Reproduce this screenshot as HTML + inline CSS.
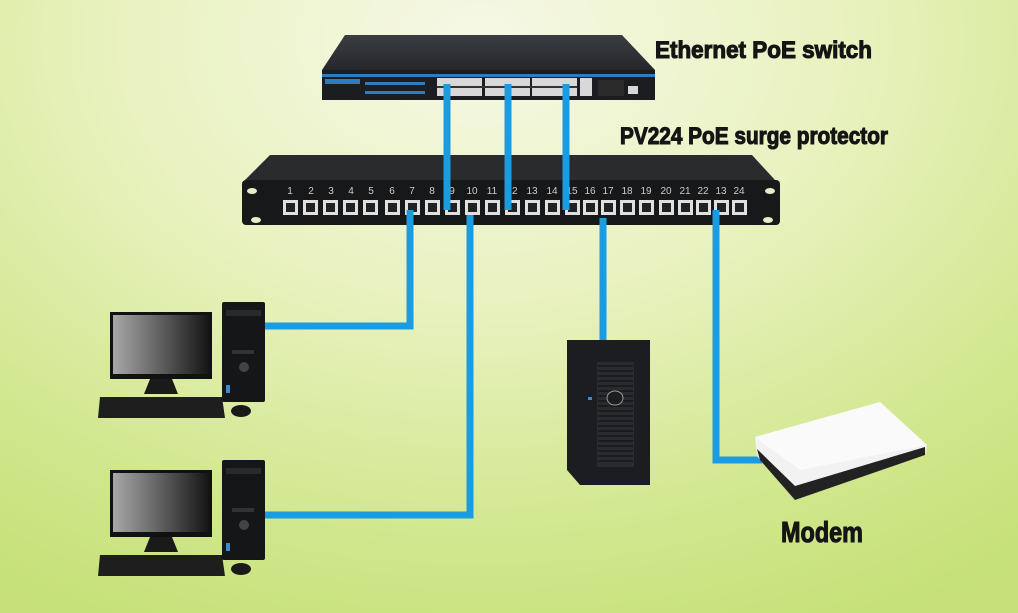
<!DOCTYPE html>
<html><head><meta charset="utf-8"><style>
html,body{margin:0;padding:0}
body{width:1018px;height:613px;overflow:hidden;background:radial-gradient(ellipse 900px 650px at 480px 40px,#f6f8e6 0%,#e9f2c0 40%,#cfe68a 80%,#c6e077 100%)}
svg{position:absolute;left:0;top:0}
.t{font-family:"Liberation Sans Narrow","Liberation Sans",sans-serif;font-weight:bold;fill:#151515;stroke:#151515;stroke-width:1.1}
</style></head><body>
<svg width="1018" height="613" viewBox="0 0 1018 613">
<defs>
<linearGradient id="scr" x1="0" x2="1"><stop offset="0" stop-color="#a8a8a8"/><stop offset="1" stop-color="#151515"/></linearGradient>
<linearGradient id="top" x1="0" y1="0" x2="0" y2="1"><stop offset="0" stop-color="#3a3d42"/><stop offset="1" stop-color="#25272b"/></linearGradient>
</defs>
<!-- switch -->
<polygon points="345,35 622,35 655,70 322,70" fill="url(#top)"/>
<rect x="322" y="70" width="333" height="30" fill="#1c1d20"/>
<rect x="322" y="74" width="333" height="3" fill="#2b7cc0"/>
<rect x="325" y="79" width="35" height="5" fill="#2b7cc0"/>
<rect x="365" y="82" width="60" height="3" fill="#2b7cc0"/>
<rect x="365" y="91" width="60" height="3" fill="#2b7cc0"/>
<g fill="#d8d8d8">
<rect x="437" y="78" width="45" height="18"/><rect x="485" y="78" width="45" height="18"/><rect x="532" y="78" width="45" height="18"/><rect x="580" y="78" width="12" height="18"/>
<rect x="628" y="86" width="10" height="8"/>
</g>
<g fill="#333"><rect x="437" y="86" width="140" height="2"/></g>
<rect x="598" y="80" width="26" height="16" fill="#2a2a2a"/>
<!-- protector -->
<polygon points="270,155 752,155 775,180 245,180" fill="#2a2b2d"/>
<rect x="242" y="180" width="538" height="45" rx="4" fill="#17181a"/>
<ellipse cx="252" cy="191" rx="5" ry="3" fill="#e6eec8"/><ellipse cx="770" cy="191" rx="5" ry="3" fill="#e6eec8"/>
<ellipse cx="256" cy="220" rx="5" ry="3" fill="#e6eec8"/><ellipse cx="768" cy="220" rx="5" ry="3" fill="#e6eec8"/>
<g font-family="Liberation Sans,sans-serif" font-size="10" fill="#ccc" text-anchor="middle">
<text x="290" y="194">1</text><text x="311" y="194">2</text><text x="331" y="194">3</text><text x="351" y="194">4</text><text x="371" y="194">5</text><text x="392" y="194">6</text><text x="412" y="194">7</text><text x="432" y="194">8</text><text x="452" y="194">9</text><text x="472" y="194">10</text><text x="492" y="194">11</text><text x="512" y="194">12</text><text x="532" y="194">13</text><text x="552" y="194">14</text><text x="572" y="194">15</text><text x="590" y="194">16</text><text x="608" y="194">17</text><text x="627" y="194">18</text><text x="646" y="194">19</text><text x="666" y="194">20</text><text x="685" y="194">21</text><text x="703" y="194">22</text><text x="721" y="194">13</text><text x="739" y="194">24</text>
</g>
<g fill="#e0e0e0">
<rect x="283" y="200" width="15" height="15"/><rect x="303" y="200" width="15" height="15"/><rect x="323" y="200" width="15" height="15"/><rect x="343" y="200" width="15" height="15"/><rect x="363" y="200" width="15" height="15"/><rect x="385" y="200" width="15" height="15"/><rect x="405" y="200" width="15" height="15"/><rect x="425" y="200" width="15" height="15"/><rect x="445" y="200" width="15" height="15"/><rect x="465" y="200" width="15" height="15"/><rect x="485" y="200" width="15" height="15"/><rect x="505" y="200" width="15" height="15"/><rect x="525" y="200" width="15" height="15"/><rect x="545" y="200" width="15" height="15"/><rect x="565" y="200" width="15" height="15"/><rect x="583" y="200" width="15" height="15"/><rect x="601" y="200" width="15" height="15"/><rect x="620" y="200" width="15" height="15"/><rect x="639" y="200" width="15" height="15"/><rect x="659" y="200" width="15" height="15"/><rect x="678" y="200" width="15" height="15"/><rect x="696" y="200" width="15" height="15"/><rect x="714" y="200" width="15" height="15"/><rect x="732" y="200" width="15" height="15"/>
</g>
<g fill="#222">
<rect x="286" y="203" width="9" height="9"/><rect x="306" y="203" width="9" height="9"/><rect x="326" y="203" width="9" height="9"/><rect x="346" y="203" width="9" height="9"/><rect x="366" y="203" width="9" height="9"/><rect x="388" y="203" width="9" height="9"/><rect x="408" y="203" width="9" height="9"/><rect x="428" y="203" width="9" height="9"/><rect x="448" y="203" width="9" height="9"/><rect x="468" y="203" width="9" height="9"/><rect x="488" y="203" width="9" height="9"/><rect x="508" y="203" width="9" height="9"/><rect x="528" y="203" width="9" height="9"/><rect x="548" y="203" width="9" height="9"/><rect x="568" y="203" width="9" height="9"/><rect x="586" y="203" width="9" height="9"/><rect x="604" y="203" width="9" height="9"/><rect x="623" y="203" width="9" height="9"/><rect x="642" y="203" width="9" height="9"/><rect x="662" y="203" width="9" height="9"/><rect x="681" y="203" width="9" height="9"/><rect x="699" y="203" width="9" height="9"/><rect x="717" y="203" width="9" height="9"/><rect x="735" y="203" width="9" height="9"/>
</g>
<!-- cables -->
<g fill="none" stroke="#1b9be0" stroke-width="7">
<path d="M447,84 V210"/><path d="M508,84 V210"/><path d="M566,84 V210"/>
<path d="M410,210 V326 H265"/>
<path d="M470,215 V515 H265"/>
<path d="M603,218 V342"/>
<path d="M716,210 V460 H762"/>
</g>
<!-- computers -->
<g id="pc">
<rect x="110" y="312" width="102" height="67" fill="#111"/>
<rect x="113" y="315" width="96" height="59" fill="url(#scr)"/>
<polygon points="150,379 172,379 178,394 144,394" fill="#1a1a1a"/>
<polygon points="100,397 222,397 225,418 98,418" fill="#1e1e1e"/>
<ellipse cx="241" cy="411" rx="10" ry="6" fill="#1a1a1a"/>
<rect x="222" y="302" width="43" height="100" rx="2" fill="#151618"/>
<rect x="226" y="310" width="35" height="6" fill="#2a2a2a"/>
<rect x="232" y="350" width="22" height="4" fill="#333"/>
<circle cx="244" cy="367" r="5" fill="#444"/>
<rect x="226" y="385" width="4" height="8" fill="#3a8ad0"/>
</g>
<use href="#pc" transform="translate(0,158)"/>
<!-- server -->
<polygon points="567,340 650,340 650,485 580,485 567,470" fill="#1c1d20"/>
<rect x="597" y="362" width="37" height="105" fill="#2a2b2e"/>
<g stroke="#17181a" stroke-width="1.5"><path d="M598,366H633M598,371H633M598,376H633M598,381H633M598,386H633M598,391H633M598,396H633M598,401H633M598,406H633M598,411H633M598,416H633M598,421H633M598,426H633M598,431H633M598,436H633M598,441H633M598,446H633M598,451H633M598,456H633M598,461H633"/></g>
<ellipse cx="615" cy="398" rx="8" ry="7" fill="#1c1d20" stroke="#999" stroke-width="1"/>
<rect x="588" y="397" width="4" height="3" fill="#3a8ad0"/>
<!-- modem -->
<polygon points="755,437 880,402 927,445 925,455 795,500 757,456" fill="#f2f2f2"/>
<polygon points="757,449 795,486 925,447 925,455 795,500 760,460" fill="#222"/>
<polygon points="755,437 880,402 927,445 800,470" fill="#fafafa"/>
<!-- labels -->
<text class="t" x="655" y="58" font-size="24" textLength="217" lengthAdjust="spacingAndGlyphs">Ethernet PoE switch</text>
<text class="t" x="620" y="144" font-size="24" textLength="268" lengthAdjust="spacingAndGlyphs">PV224  PoE surge protector</text>
<text class="t" x="781" y="542" font-size="29" textLength="82" lengthAdjust="spacingAndGlyphs">Modem</text>
</svg>
</body></html>
